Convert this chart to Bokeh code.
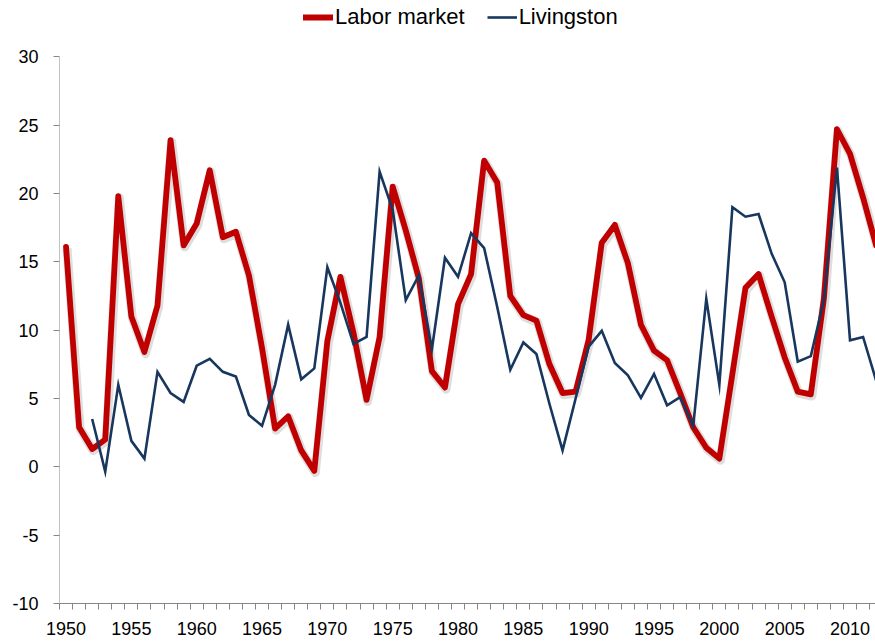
from bokeh.plotting import figure
from bokeh.models import Range1d, FixedTicker, ColumnDataSource, Legend, LegendItem
from bokeh.embed import file_html
from bokeh.resources import INLINE

# ---- data ----
labor_years = list(range(1950, 2013))
labor_market = [16.1, 2.9, 1.3, 2.0, 19.8, 11.0, 8.4, 11.8, 23.9, 16.2,
                17.8, 21.7, 16.8, 17.2, 14.0, 8.7, 2.8, 3.7, 1.2, -0.3,
                9.2, 13.9, 9.8, 4.9, 9.5, 20.5, 17.3, 13.8, 7.0, 5.8,
                11.9, 14.1, 22.4, 20.8, 12.5, 11.1, 10.7, 7.5, 5.4, 5.5,
                9.3, 16.4, 17.7, 14.9, 10.4, 8.5, 7.8, 5.4, 2.9, 1.4,
                0.6, 6.8, 13.1, 14.1, 11.0, 8.0, 5.5, 5.3, 12.3, 24.7,
                22.9, 19.7, 16.2]

liv_years = list(range(1952, 2013))
livingston = [3.5, -0.35, 6.0, 1.9, 0.6, 6.95, 5.4, 4.75,
              7.4, 7.9, 6.95, 6.6, 3.8, 3.0, 6.0, 10.4, 6.4, 7.2,
              14.6, 12.0, 9.0, 9.5, 21.6, 18.8, 12.2, 14.0, 8.6, 15.3,
              13.9, 17.1, 16.0, 11.7, 7.1, 9.1, 8.25, 4.6, 1.2, 5.0,
              8.8, 9.95, 7.6, 6.7, 5.05, 6.8, 4.5, 5.1, 3.0, 12.3,
              6.0, 19.0, 18.3, 18.5, 15.6, 13.5, 7.7, 8.1, 12.2, 21.9,
              9.26, 9.5, 6.3]

series_names = ["Labor market", "Livingston"]
x_labels = list(range(1950, 2011, 5))
y_ticks = list(range(-10, 31, 5))

FONT = "Liberation Sans"
AXIS_GRAY = "#868686"
RED = "#C00000"
BLUE = "#17375E"

# frame runs to the top of the canvas so the legend can sit above the 30 line
p = figure(width=875, height=643, output_backend="svg", toolbar_location=None,
           x_range=Range1d(1949.5, 2011.95), y_range=Range1d(-10, 34.12),
           min_border_left=59, min_border_right=0, min_border_top=0,
           min_border_bottom=40)
p.outline_line_color = None
p.xgrid.visible = False
p.ygrid.visible = False

src_l = ColumnDataSource(dict(x=labor_years, y=labor_market,
                              xs=[v + 0.08 for v in labor_years],
                              ys=[v - 0.12 for v in labor_market]))
src_v = ColumnDataSource(dict(x=liv_years, y=livingston))

# vertical axis line only over the tick span (-10 .. 30)
p.segment(x0=[1949.5], y0=[min(y_ticks)], x1=[1949.5], y1=[max(y_ticks)],
          line_color=AXIS_GRAY, line_width=1)

# soft shadow under the red line
p.line("xs", "ys", source=src_l, line_color="#000000", line_alpha=0.13,
       line_width=9, line_join="round")
r_lab = p.line("x", "y", source=src_l, line_color=RED, line_width=5.8,
               line_join="round", line_cap="round")
r_liv = p.line("x", "y", source=src_v, line_color=BLUE, line_width=2.6,
               line_join="miter")

# x axis: labels at every fifth year, ticks between categories
p.xaxis.ticker = FixedTicker(ticks=x_labels,
                             minor_ticks=[y - 0.5 for y in range(1950, 2014)])
p.xaxis.major_tick_line_color = None
p.xaxis.major_tick_out = 0
p.xaxis.major_tick_in = 0
p.xaxis.minor_tick_out = 6
p.xaxis.minor_tick_in = 0
p.xaxis.minor_tick_line_color = AXIS_GRAY
p.xaxis.axis_line_color = AXIS_GRAY
p.xaxis.major_label_standoff = 12
p.xaxis.major_label_text_font = FONT
p.xaxis.major_label_text_font_size = "18px"
p.xaxis.major_label_text_color = "#000000"

p.yaxis.ticker = FixedTicker(ticks=y_ticks)
p.yaxis.major_label_overrides = {t: str(t) for t in y_ticks}
p.yaxis.minor_tick_line_color = None
p.yaxis.major_tick_out = 6
p.yaxis.major_tick_in = 0
p.yaxis.major_tick_line_color = AXIS_GRAY
p.yaxis.axis_line_color = None
p.yaxis.major_label_standoff = 15
p.yaxis.major_label_text_font = FONT
p.yaxis.major_label_text_font_size = "18px"
p.yaxis.major_label_text_color = "#000000"

legend = Legend(items=[LegendItem(label=series_names[0], renderers=[r_lab]),
                       LegendItem(label=series_names[1], renderers=[r_liv])],
                orientation="horizontal", location=(244, 573),
                background_fill_alpha=0, border_line_color=None,
                label_text_font=FONT, label_text_font_size="22px",
                label_text_color="#000000",
                glyph_width=30, glyph_height=20, label_standoff=2,
                spacing=22, padding=0, margin=0)
p.add_layout(legend)

open("out.html", "w").write(file_html(p, INLINE))
